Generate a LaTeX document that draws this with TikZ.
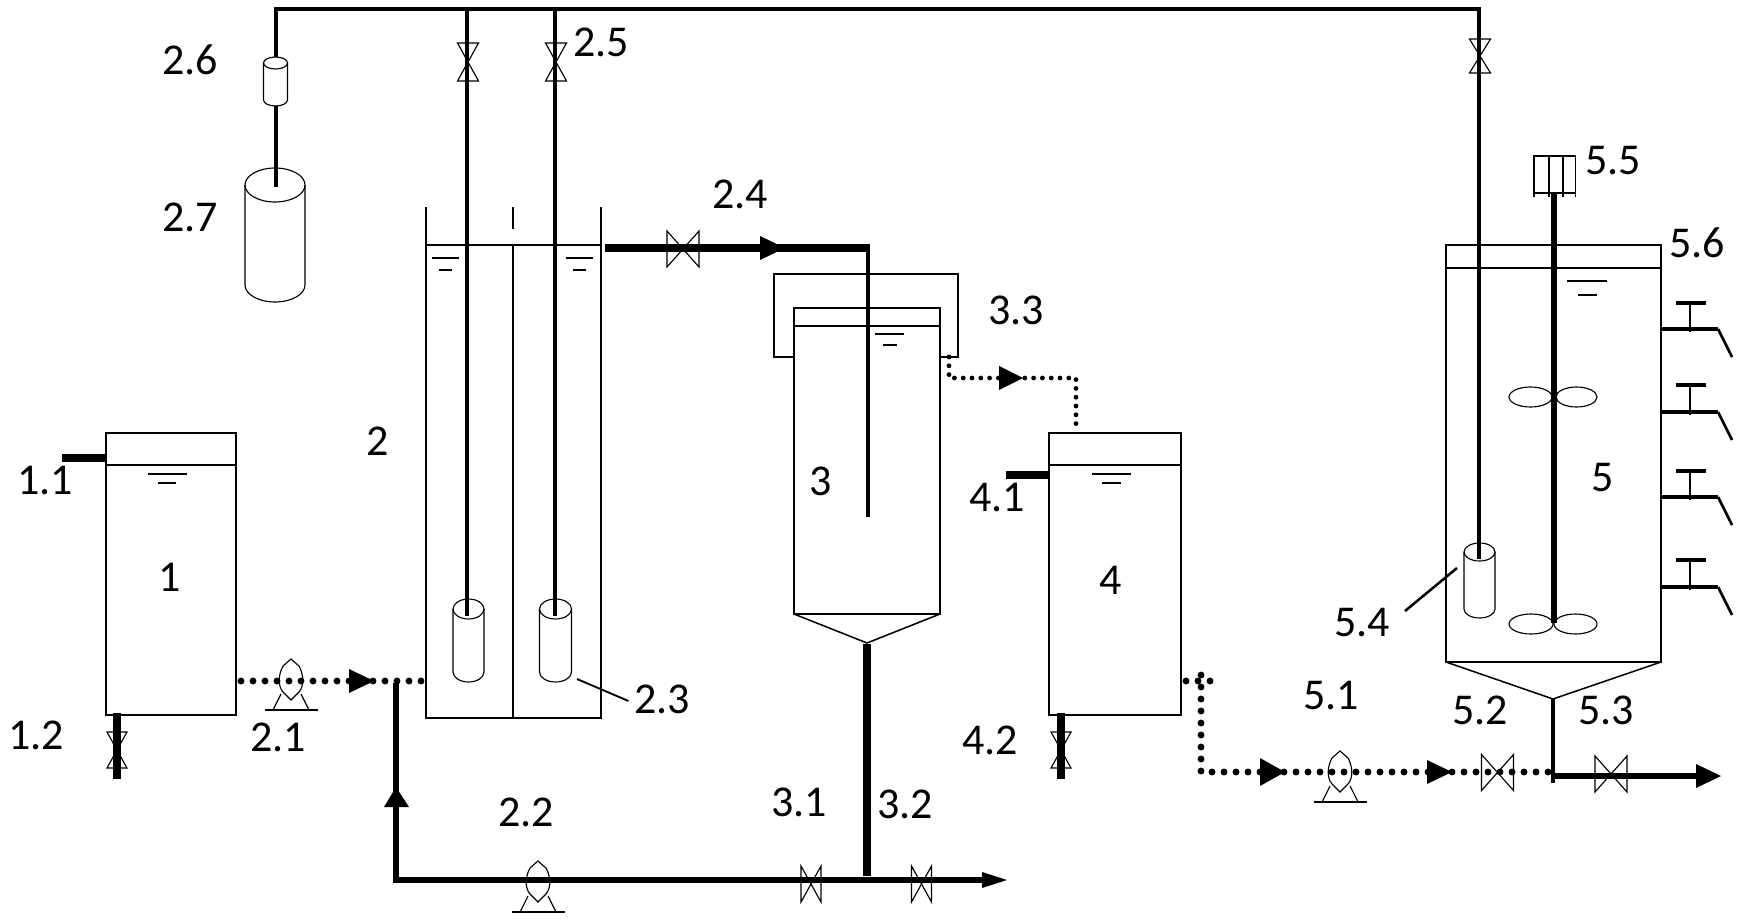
\documentclass[tikz,border=0pt]{standalone}
\usepackage{fontspec}
\setmainfont{Carlito}
\tikzset{
  x=0.75pt,y=-0.75pt,
  wall/.style={line width=1.15pt,draw=black},
  level/.style={line width=1.8pt,draw=black},
  fine/.style={line width=0.85pt,draw=black},
  pipe/.style={line width=3.4pt,draw=black},
  bigpipe/.style={line width=5.4pt,draw=black},
  dotpipe/.style={line width=5.2pt,line cap=round,dash pattern=on 0pt off 9pt,draw=black},
  dotsmall/.style={line width=3.6pt,line cap=round,dash pattern=on 0pt off 6.6pt,draw=black},
  lab/.style={font=\fontsize{33}{33}\selectfont,inner sep=0pt,text=black},
}
% bow-tie valve on a vertical pipe: x, y, half width, half height
\newcommand{\vvalve}[4]{\draw[fine] ({#1-#3},{#2-#4})--({#1+#3},{#2-#4})--({#1-#3},{#2+#4})--({#1+#3},{#2+#4})--cycle;}
% bow-tie valve on a horizontal pipe
\newcommand{\hvalve}[4]{\draw[fine] ({#1-#3},{#2-#4})--({#1-#3},{#2+#4})--({#1+#3},{#2-#4})--({#1+#3},{#2+#4})--cycle;}
% cylinder: centre x, top, bottom, rx, ry
\newcommand{\cylinder}[5]{%
  \draw[fine] (#1,{#2+#5}) ellipse [x radius=#4,y radius=#5];
  \draw[fine] ({#1-#4},{#2+#5})--({#1-#4},{#3-#5}) .. controls ({#1-#4},{#3-0.45*#5}) and ({#1-0.55*#4},#3) .. (#1,#3) .. controls ({#1+0.55*#4},#3) and ({#1+#4},{#3-0.45*#5}) .. ({#1+#4},{#3-#5})--({#1+#4},{#2+#5});}
% pump: centre x, lens top
\newcommand{\pump}[2]{%
  \draw[fine] (#1,#2)--({#1+8},{#2+7}) .. controls ({#1+12},{#2+14}) and ({#1+14},{#2+26}) .. ({#1+8},{#2+33})--(#1,{#2+41})--({#1-8},{#2+33}) .. controls ({#1-14},{#2+26}) and ({#1-12},{#2+14}) .. ({#1-8},{#2+7})--cycle;
  \draw[fine] ({#1-10},{#2+35})--({#1-18},{#2+51});
  \draw[fine] ({#1+10},{#2+35})--({#1+18},{#2+51});
  \draw[wall] ({#1-26.5},{#2+51})--({#1+26.5},{#2+51});}
% liquid level mark: x1,x2,y, x3,x4,y2
\newcommand{\lvlmark}[6]{\draw[wall] (#1,#3)--(#2,#3); \draw[fine] (#4,#6)--(#5,#6);}
% tap on the wall of tank 5: y of outlet, y of bar, y of spout end
\newcommand{\tap}[3]{%
  \draw[line width=3.6pt] (1661,#1)--(1718,#1);
  \draw[line width=2.2pt] (1690,#2)--(1690,{#1+3});
  \draw[line width=2.8pt] (1676,#2)--(1706,#2);
  \draw[line width=2pt] (1718,#1)--(1732,#3);}
\begin{document}
\begin{tikzpicture}
\useasboundingbox (0,0) rectangle (1744,920);
% --- named points
\coordinate (busL) at (276,9); \coordinate (busR) at (1479,9);
\coordinate (m1) at (467,616); \coordinate (m1t) at (467,9);
\coordinate (m2) at (555,616); \coordinate (m2t) at (555,9);
\coordinate (m5) at (1479,559);
\coordinate (c26t) at (276,57); \coordinate (c26b) at (276,106); \coordinate (c27) at (276,187);
% --- tank 1
\draw[wall] (106,465) rectangle (236,715);
\draw[wall] (106,465)--(106,433)--(236,433)--(236,465);
\draw[level] (106,465)--(236,465);\draw[level] (106,715)--(236,715);
\lvlmark{148}{187}{474}{158}{176}{483}
\coordinate (t1a) at (106,458); \coordinate (t1b) at (62,458);
\draw[line width=6pt] (t1a)--(t1b);
\coordinate (t1c) at (117,713); \coordinate (t1d) at (117,779);
\draw[bigpipe] (t1c)--(t1d);
\vvalve{117}{750}{10}{18}
% --- tank 2
\draw[wall] (426,207)--(426,718)--(601,718)--(601,207);
\draw[level] (426,718)--(601,718);
\draw[wall] (426,245)--(601,245);
\draw[wall] (513,207)--(513,229);
\draw[wall] (513,245)--(513,718);
\lvlmark{432}{459}{258}{439}{452}{270}
\lvlmark{566}{593}{258}{573}{586}{270}
\cylinder{468.5}{599}{682}{15.5}{10}
\cylinder{555.5}{599}{682}{16}{10}
% --- air supply
\draw[pipe,line width=3.1pt] (busL)--(c26t);
\draw[pipe,line width=3.1pt] (c26b)--(c27);
\draw[line width=3.4pt,line cap=rect] (busL)--(busR);
\draw[pipe] (m1t)--(m1);
\draw[pipe] (m2t)--(m2);
\draw[pipe] (busR)--(m5);
\vvalve{468}{62}{10.5}{19}
\vvalve{556}{62}{10.5}{19}
\vvalve{1480}{56}{10.5}{17}
\cylinder{275.5}{57}{106}{12}{6}
\cylinder{275}{168}{302}{30}{17}
% --- feed 1 -> 2
\coordinate (d1a) at (241,681); \coordinate (d1b) at (423,681);
\draw[dotpipe] (d1a)--(d1b);
\pump{291}{659}
\fill (349,669)--(374,681)--(349,693)--cycle;
% --- recycle
\coordinate (r1) at (396,683); \coordinate (r2) at (396,880); \coordinate (r3) at (982,880);
\draw[line width=5.2pt,line join=miter] (r1)--(r2)--(r3);
\fill (396,787)--(409,807)--(384,807)--cycle;
\fill (982,872)--(1007,880)--(982,888)--cycle;
\pump{538}{861}
\hvalve{811}{884}{10}{18}
\hvalve{921.5}{884}{10}{18}
% --- tank 3
\draw[wall] (794,326)--(794,308)--(940,308)--(940,326);
\draw[level] (794,326)--(940,326);
\draw[wall] (794,326)--(794,614)--(940,614)--(940,326);
\draw[wall] (794,614)--(867,643)--(940,614);
\draw[wall] (794,357)--(774,357)--(774,274)--(958,274)--(958,357)--(940,357);
\draw[level] (774,357)--(794,357);\draw[level] (940,357)--(958,357);
\lvlmark{875}{904}{334}{883}{897}{345}
\coordinate (s1) at (867,644); \coordinate (s2) at (867,876);
\draw[bigpipe] (s1)--(s2);
% --- 2 -> 3
\coordinate (o1) at (605,248); \coordinate (o2) at (868,248); \coordinate (o3) at (868,517);
\draw[line width=2.8pt] (o2)--(o3);
\draw[line width=6.2pt] (o1)--(869.5,248);
\hvalve{683}{249}{16}{18}
\fill (760,236)--(785,248)--(760,260)--cycle;
% --- 3 -> 4
\coordinate (q1) at (949,357); \coordinate (q2) at (949,378); \coordinate (q3) at (1076,378); \coordinate (q4) at (1076,425);
\draw[dotsmall] (q1)--(q2)--(q3)--(q4);
\fill (999,366)--(1023,378)--(999,390)--cycle;
% --- tank 4
\draw[wall] (1049,465) rectangle (1181,715);
\draw[wall] (1049,465)--(1049,433)--(1181,433)--(1181,465);
\draw[level] (1049,465)--(1181,465);\draw[level] (1049,715)--(1181,715);
\lvlmark{1092}{1131}{474}{1102}{1121}{483}
\coordinate (t4a) at (1049,475); \coordinate (t4b) at (1006,475);
\draw[line width=6pt] (t4a)--(t4b);
\coordinate (t4c) at (1061,713); \coordinate (t4d) at (1061,779);
\draw[bigpipe] (t4c)--(t4d);
\vvalve{1061}{750}{10}{18}
% --- 4 -> 5
\coordinate (e1) at (1201,681); \coordinate (e2) at (1201,772); \coordinate (e3) at (1553,772);
\draw[dotpipe] (1186,681)--(1217,681);
\draw[dotpipe] (1201,675)--(e2)--(e3);
\pump{1340}{751}
\fill (1260,758)--(1285,772)--(1260,786)--cycle;
\fill (1427,760)--(1452,772)--(1427,784)--cycle;
\hvalve{1497.5}{772.5}{16}{18}
% --- tank 5
\draw[wall] (1446,662)--(1446,245)--(1661,245)--(1661,662)--cycle;
\draw[level] (1446,268)--(1661,268);
\draw[wall] (1446,662)--(1553,699)--(1661,662);
\lvlmark{1567}{1607}{281}{1578}{1597}{295}
\coordinate (x1) at (1553,699); \coordinate (x2) at (1553,783); \coordinate (x3) at (1553,776); \coordinate (x4) at (1696,776);
\draw[pipe] (x1)--(x2);
\draw[line width=4.4pt] (x3)--(x4);
\fill (1696,764)--(1721,776)--(1696,788)--cycle;
\hvalve{1611}{774}{16}{18}
\cylinder{1479.5}{543}{618}{15.5}{9}
% stirrer
\coordinate (sh1) at (1554,193); \coordinate (sh2) at (1554,623);
\draw[line width=4.2pt] (sh1)--(sh2);
\draw[wall] (1534,197)--(1534,156)--(1575.5,156)--(1575.5,197);
\draw[fine] (1549,156)--(1549,197); \draw[fine] (1563,156)--(1563,197);
\draw[level] (1534,193)--(1575.5,193);
\draw[fine] (1530.5,397) ellipse [x radius=21.5,y radius=10];
\draw[fine] (1576.5,397) ellipse [x radius=20.5,y radius=10];
\draw[fine] (1531,624) ellipse [x radius=22,y radius=10];
\draw[fine] (1575.5,624) ellipse [x radius=21.5,y radius=10];
\tap{329}{303}{357}
\tap{412}{385}{440}
\tap{497}{471}{525}
\tap{587}{560}{615}
% leaders
\coordinate (l23a) at (577,679); \coordinate (l23b) at (628.5,701);
\draw[line width=1.4pt] (l23a)--(l23b);
\coordinate (l54a) at (1457,568); \coordinate (l54b) at (1405,611);
\draw[line width=1.9pt] (l54a)--(l54b);
% --- labels
\node[lab] (L26) at (190,60) {2.6};
\node[lab] (L27) at (190,217) {2.7};
\node[lab] (L25) at (601,42) {2.5};
\node[lab] (L24) at (740,194) {2.4};
\node[lab] (L2) at (378,441) {2};
\node[lab] (L33) at (1016,310) {3.3};
\node[lab] (L55) at (1613,161) {5.5};
\node[lab] (L56) at (1697,243) {5.6};
\node[lab] (L11) at (45,481) {1.1};
\node[lab] (L1) at (170,577) {1};
\node[lab] (L3) at (821,481) {3};
\node[lab] (L12) at (36,735) {1.2};
\node[lab] (L21) at (278,737) {2.1};
\node[lab] (L23) at (662,699) {2.3};
\node[lab] (L22) at (526,812) {2.2};
\node[lab] (L31) at (799,802) {3.1};
\node[lab] (L41) at (997,498) {4.1};
\node[lab] (L4) at (1111,580) {4};
\node[lab] (L5) at (1603,478) {5};
\node[lab] (L54) at (1362,623) {5.4};
\node[lab] (L51) at (1331,696) {5.1};
\node[lab] (L52) at (1480,710) {5.2};
\node[lab] (L53) at (1606,710) {5.3};
\node[lab] (L42) at (990,740) {4.2};
\node[lab] (L32) at (905,804) {3.2};
\end{tikzpicture}
\end{document}
